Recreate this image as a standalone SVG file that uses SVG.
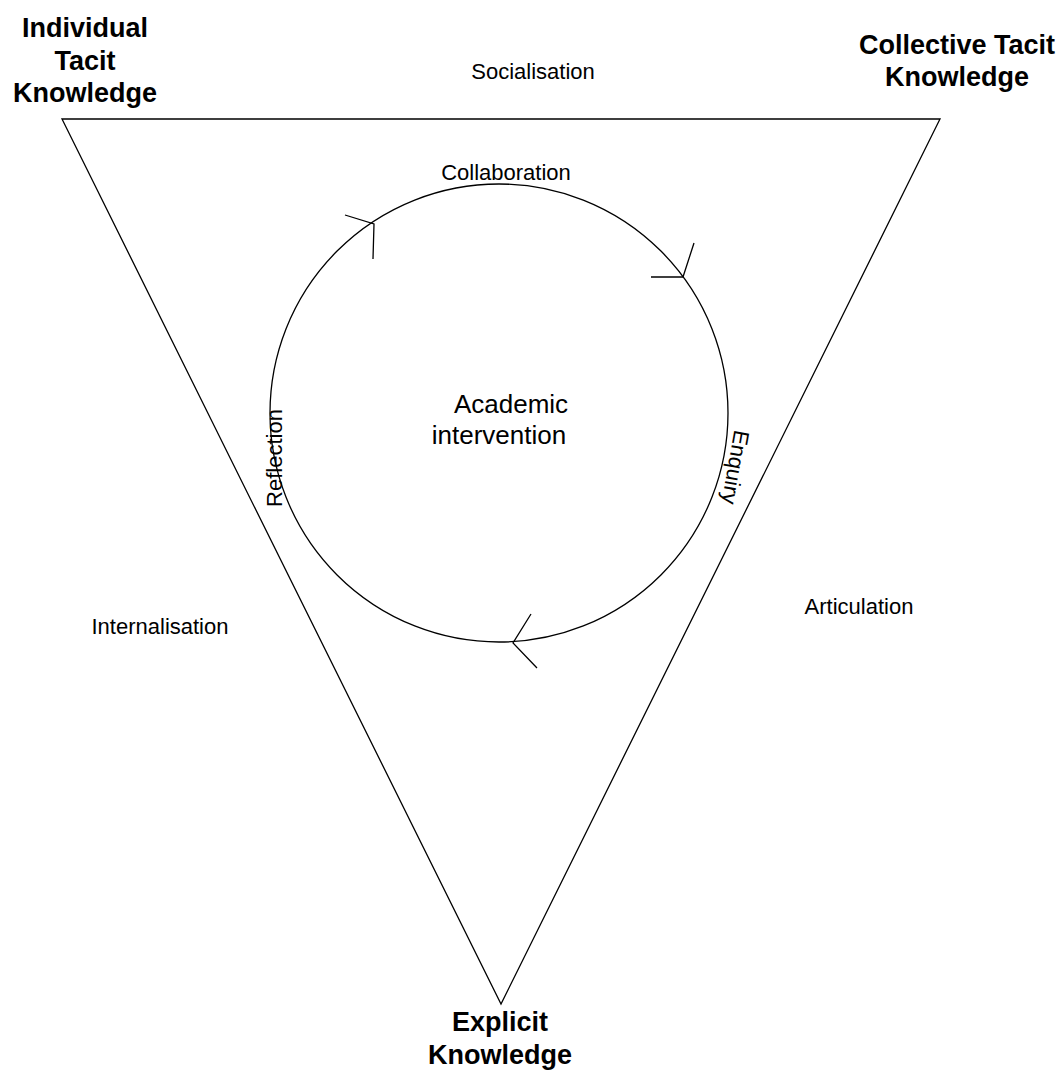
<svg xmlns="http://www.w3.org/2000/svg" width="1063" height="1090" viewBox="0 0 1063 1090">
<style>
.bold{font-family:"Liberation Sans",Arial,sans-serif;font-weight:bold;font-size:27px;fill:#000;text-anchor:middle}
.lbl{font-family:"Liberation Sans",Arial,sans-serif;font-size:22px;fill:#000;text-anchor:middle}
.big{font-family:"Liberation Sans",Arial,sans-serif;font-size:26px;fill:#000;text-anchor:middle}
.ln{fill:none;stroke:#000;stroke-width:1.3}
</style>
<rect width="1063" height="1090" fill="#fff"/>
<g id="triangle">
<polygon class="ln" points="62,119 940,119 501,1004"/>
</g>
<g id="cycle">
<circle class="ln" cx="499" cy="413" r="229"/>
<text class="big" x="511" y="413">Academic</text>
<text class="big" x="499" y="444">intervention</text>
</g>
<g id="connectors">
<polyline class="ln" points="345,215 374,224 373,259"/>
<polyline class="ln" points="651,277 683,277 694,243"/>
<polyline class="ln" points="531,614 513,643 537,668"/>
</g>
<g id="node-individual">
<text class="bold" x="85" y="37">Individual</text>
<text class="bold" x="85" y="70">Tacit</text>
<text class="bold" x="85" y="102">Knowledge</text>
</g>
<g id="node-collective">
<text class="bold" x="957" y="54">Collective Tacit</text>
<text class="bold" x="957" y="86">Knowledge</text>
</g>
<g id="node-explicit">
<text class="bold" x="500" y="1031">Explicit</text>
<text class="bold" x="500" y="1064">Knowledge</text>
</g>
<g id="labels">
<text class="lbl" x="533" y="79">Socialisation</text>
<text class="lbl" x="506" y="180">Collaboration</text>
<text class="lbl" x="160" y="634">Internalisation</text>
<text class="lbl" x="859" y="614">Articulation</text>
<text class="lbl" transform="translate(282,458) rotate(-90)">Reflection</text>
<text class="lbl" transform="translate(728,466) rotate(100)">Enquiry</text>
</g>
</svg>
